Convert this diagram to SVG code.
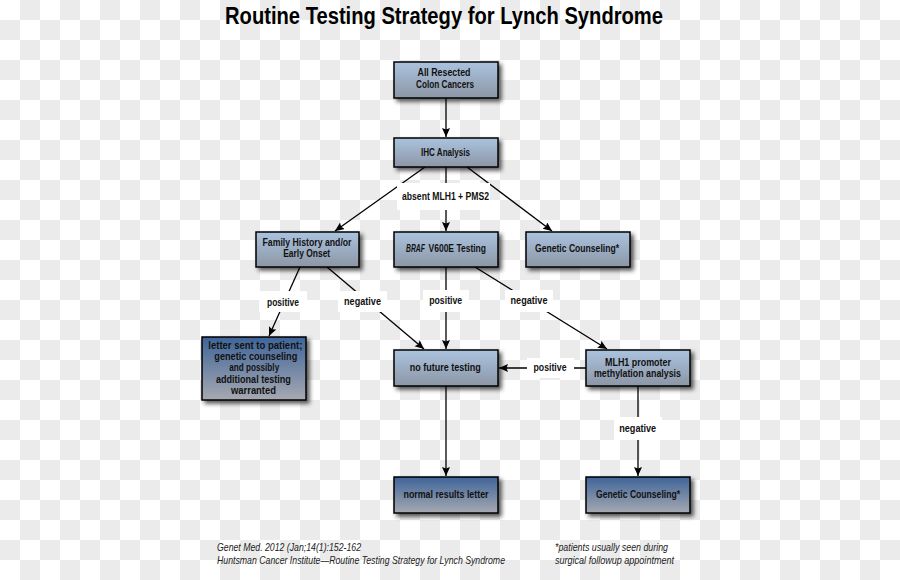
<svg xmlns="http://www.w3.org/2000/svg" width="900" height="580" viewBox="0 0 900 580">
<defs>
  <pattern id="checker" x="0" y="0" width="40" height="40" patternUnits="userSpaceOnUse">
    <rect width="40" height="40" fill="#ffffff"/>
    <rect x="20" y="0" width="20" height="20" fill="#ebebeb"/>
    <rect x="0" y="20" width="20" height="20" fill="#ebebeb"/>
  </pattern>
  <linearGradient id="gLight" x1="0" y1="0" x2="0" y2="1">
    <stop offset="0" stop-color="#abc3df"/>
    <stop offset="1" stop-color="#8c96a5"/>
  </linearGradient>
  <linearGradient id="gDark" x1="0" y1="0" x2="0" y2="1">
    <stop offset="0" stop-color="#3f6499"/>
    <stop offset="1" stop-color="#a6a9b1"/>
  </linearGradient>
  <filter id="shadow" x="-20%" y="-20%" width="150%" height="160%">
    <feDropShadow dx="3" dy="3" stdDeviation="2" flood-color="#000" flood-opacity="0.65"/>
  </filter>
  <marker id="arrow" markerUnits="userSpaceOnUse" markerWidth="10" markerHeight="10" refX="9" refY="4" orient="auto">
    <path d="M0,0 L9,4 L0,8 L1.5,4 z" fill="#000"/>
  </marker>
  <style>
    .box { stroke:#000; stroke-width:1.5; filter:url(#shadow); }
    .light { fill:url(#gLight); }
    .dark { fill:url(#gDark); }
    .t { font-family:"Liberation Sans Narrow","Liberation Sans",Arial,sans-serif; font-weight:bold; font-size:10.5px; fill:#111; text-anchor:middle; }
    .s { text-anchor:start; }
    .lbl { fill:#ffffff; }
    .edge { stroke:#000; stroke-width:1.3; fill:none; marker-end:url(#arrow); }
    .title { font-family:"Liberation Sans Narrow","Liberation Sans",Arial,sans-serif; font-weight:bold; font-size:23px; fill:#000; text-anchor:middle; }
    .foot { font-family:"Liberation Sans Narrow","Liberation Sans",Arial,sans-serif; font-style:italic; font-size:10.5px; fill:#222; }
  </style>
</defs>

<rect width="900" height="580" fill="url(#checker)"/>

<text class="title" x="444" y="24" textLength="438" lengthAdjust="spacingAndGlyphs">Routine Testing Strategy for Lynch Syndrome</text>

<g id="connectors">
  <line class="edge" x1="446" y1="98" x2="446" y2="137"/>
  <line class="edge" x1="425" y1="167" x2="335" y2="231"/>
  <line class="edge" x1="446" y1="167" x2="446" y2="231"/>
  <line class="edge" x1="467" y1="167" x2="552" y2="231"/>
  <line class="edge" x1="300" y1="267" x2="269" y2="336"/>
  <line class="edge" x1="327" y1="267" x2="424" y2="349"/>
  <line class="edge" x1="446" y1="267" x2="446" y2="349"/>
  <line class="edge" x1="475" y1="267" x2="607" y2="349"/>
  <line class="edge" x1="586" y1="368" x2="499" y2="368"/>
  <line class="edge" x1="446" y1="386" x2="446" y2="476"/>
  <line class="edge" x1="638" y1="386" x2="638" y2="476"/>

  <rect class="lbl" x="397" y="183" width="93" height="27"/>
  <text class="t" x="445.5" y="200" textLength="87" lengthAdjust="spacingAndGlyphs">absent MLH1 + PMS2</text>

  <rect class="lbl" x="259" y="291" width="48" height="21"/>
  <text class="t" x="283" y="305.5" textLength="32" lengthAdjust="spacingAndGlyphs">positive</text>

  <rect class="lbl" x="338" y="291" width="49" height="21"/>
  <text class="t" x="362.5" y="305" textLength="37" lengthAdjust="spacingAndGlyphs">negative</text>

  <rect class="lbl" x="423" y="290" width="46" height="22"/>
  <text class="t" x="445.7" y="304" textLength="33" lengthAdjust="spacingAndGlyphs">positive</text>

  <rect class="lbl" x="505" y="290" width="48" height="22"/>
  <text class="t" x="529" y="304" textLength="37" lengthAdjust="spacingAndGlyphs">negative</text>

  <rect class="lbl" x="527" y="358" width="47" height="20"/>
  <text class="t" x="550" y="371" textLength="33" lengthAdjust="spacingAndGlyphs">positive</text>

  <rect class="lbl" x="614" y="417" width="48" height="23"/>
  <text class="t" x="637.7" y="432" textLength="37" lengthAdjust="spacingAndGlyphs">negative</text>
</g>

<g id="n-start">
  <rect class="box light" x="394" y="62" width="104" height="36"/>
  <text class="t" x="444" y="76" textLength="53" lengthAdjust="spacingAndGlyphs">All Resected</text>
  <text class="t" x="445" y="88" textLength="58" lengthAdjust="spacingAndGlyphs">Colon Cancers</text>
</g>

<g id="n-ihc">
  <rect class="box light" x="394" y="138" width="104" height="29"/>
  <text class="t" x="445.5" y="155.5" textLength="49" lengthAdjust="spacingAndGlyphs">IHC Analysis</text>
</g>

<g id="n-family">
  <rect class="box light" x="256" y="232" width="103" height="35"/>
  <text class="t" x="307" y="246" textLength="89" lengthAdjust="spacingAndGlyphs">Family History and/or</text>
  <text class="t" x="306.7" y="256.5" textLength="47" lengthAdjust="spacingAndGlyphs">Early Onset</text>
</g>

<g id="n-braf">
  <rect class="box light" x="394" y="232" width="104" height="35"/>
  <text class="t s" transform="translate(406,252) scale(0.65,1)" x="0" y="0" font-style="italic">BRAF</text>
  <text class="t s" x="428.5" y="252" textLength="57.5" lengthAdjust="spacingAndGlyphs">V600E Testing</text>
</g>

<g id="n-gc1">
  <rect class="box light" x="526" y="232" width="104" height="35"/>
  <text class="t" x="577" y="252" textLength="84" lengthAdjust="spacingAndGlyphs">Genetic Counseling*</text>
</g>

<g id="n-letter">
  <rect class="box dark" x="202" y="337" width="104" height="63"/>
  <text class="t" x="255.3" y="349" textLength="94" lengthAdjust="spacingAndGlyphs">letter sent to patient;</text>
  <text class="t" x="255.8" y="360.2" textLength="83" lengthAdjust="spacingAndGlyphs">genetic counseling</text>
  <text class="t" x="254.2" y="371.4" textLength="50" lengthAdjust="spacingAndGlyphs">and possibly</text>
  <text class="t" x="253.4" y="382.6" textLength="75" lengthAdjust="spacingAndGlyphs">additional testing</text>
  <text class="t" x="253.5" y="393.8" textLength="45" lengthAdjust="spacingAndGlyphs">warranted</text>
</g>

<g id="n-nofuture">
  <rect class="box light" x="394" y="350" width="104" height="36"/>
  <text class="t" x="445.3" y="371" textLength="71" lengthAdjust="spacingAndGlyphs">no future testing</text>
</g>

<g id="n-mlh1">
  <rect class="box light" x="586" y="350" width="104" height="36"/>
  <text class="t" x="638" y="366" textLength="66" lengthAdjust="spacingAndGlyphs">MLH1 promoter</text>
  <text class="t" x="637.5" y="377" textLength="87" lengthAdjust="spacingAndGlyphs">methylation analysis</text>
</g>

<g id="n-normal">
  <rect class="box dark" x="394" y="477" width="104" height="36"/>
  <text class="t" x="446" y="498" textLength="85" lengthAdjust="spacingAndGlyphs">normal results letter</text>
</g>

<g id="n-gc2">
  <rect class="box dark" x="586" y="477" width="104" height="36"/>
  <text class="t" x="638" y="498" textLength="84" lengthAdjust="spacingAndGlyphs">Genetic Counseling*</text>
</g>

<g id="footer">
  <text class="foot" x="217" y="551" textLength="144" lengthAdjust="spacingAndGlyphs">Genet Med. 2012 (Jan;14(1):152-162</text>
  <text class="foot" x="217" y="563.5" textLength="288" lengthAdjust="spacingAndGlyphs">Huntsman Cancer Institute—Routine Testing Strategy for Lynch Syndrome</text>
  <text class="foot" x="555" y="551" textLength="113" lengthAdjust="spacingAndGlyphs">*patients usually seen during</text>
  <text class="foot" x="555" y="563.5" textLength="119" lengthAdjust="spacingAndGlyphs">surgical followup appointment</text>
</g>
</svg>
